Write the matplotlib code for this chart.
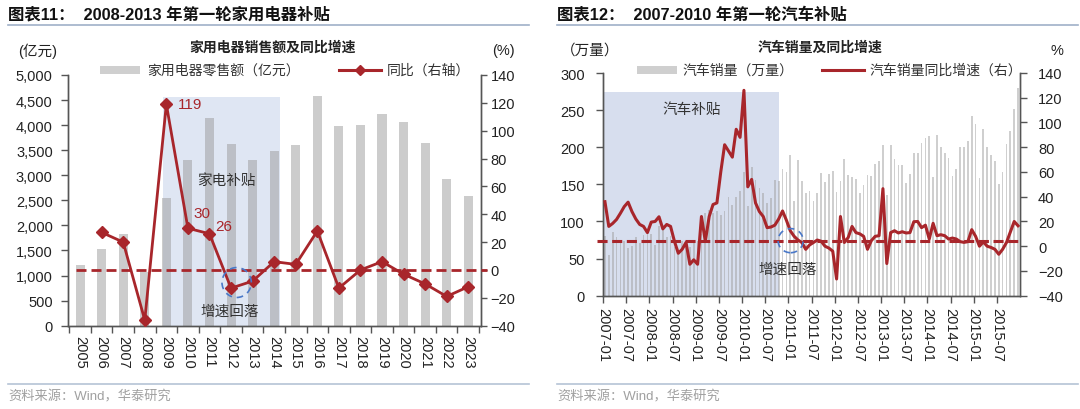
import numpy as np
import matplotlib.pyplot as plt
from matplotlib.patches import Ellipse, Rectangle
from matplotlib.lines import Line2D
from matplotlib.ticker import FuncFormatter, MultipleLocator

plt.rcParams['font.family'] = ['Liberation Sans', 'Noto Sans CJK SC']

# ---- left chart data: household appliance retail sales ----
years = ['2005', '2006', '2007', '2008', '2009', '2010', '2011', '2012', '2013', '2014',
         '2015', '2016', '2017', '2018', '2019', '2020', '2021', '2022', '2023']
sales = [1210, 1530, 1830, 1080, 2550, 3300, 4150, 3620, 3300, 3480,
         3600, 4580, 3990, 4000, 4220, 4070, 3650, 2930, 2580]
sales_yoy = [np.nan, 27, 20, -36, 119, 30, 26, -13, -8, 6,
             4, 28, -13, 0, 6, -3, -10, -19, -12]

# ---- right chart data: monthly car sales 2007-01 .. 2015-12 ----
car_ticks = ['2007-01', '2007-07', '2008-01', '2008-07', '2009-01', '2009-07',
             '2010-01', '2010-07', '2011-01', '2011-07', '2012-01', '2012-07',
             '2013-01', '2013-07', '2014-01', '2014-07', '2015-01', '2015-07']
car_sales = [
    80.8, 55.3, 85.3, 79.4, 72.6, 73.5, 63.8, 67.1, 79.2, 71.2, 81.1, 83.8,
    83.6, 67.8, 94.5, 93.5, 79.4, 80.2, 66.2, 59.2, 73.2, 72.9, 65.3, 74.3,
    73.5, 82.7, 111.2, 115.3, 111.9, 114.1, 108.6, 114.5, 133.0, 122.8, 132.7, 141.7,
    166.8, 120.8, 173.5, 155.2, 144.6, 138.1, 124.9, 131.6, 156.5, 155.0, 170.3, 166.7,
    189.4, 127.1, 183.2, 155.0, 138.0, 140.5, 127.5, 139.0, 164.8, 153.0, 164.0, 168.0,
    139.4, 155.1, 183.6, 162.3, 159.8, 156.7, 137.8, 148.8, 162.0, 161.6, 178.0, 181.6,
    203.5, 135.0, 203.3, 184.0, 175.5, 175.9, 151.5, 164.5, 192.5, 192.2, 205.1, 212.6,
    215.5, 160.0, 217.0, 200.0, 192.0, 185.0, 161.0, 171.0, 200.0, 200.0, 209.0, 241.7,
    231.0, 159.0, 224.0, 200.0, 190.0, 182.0, 151.0, 167.0, 204.0, 222.0, 251.0, 280.0]
car_yoy = [
    36, 16, 18.4, 21.6, 26.6, 32, 35.6, 28, 22, 17.6, 16, 11,
    19.5, 20, 23.8, 14, 17.6, 16, 4, -5.7, -2.5, 3, -14.6, -11,
    -14.6, 24, 4, 24, 33.7, 35, 60, 82, 77, 72, 94.5, 88,
    126, 48, 54, 35, 28, 24, 15, 15.5, 17, 22, 28.5, 21,
    12.5, 8, 5, 3, -2.5, 1, 3, 5, 4, 0, -1.5, -4,
    -26.5, 24, 3, 7, 16, 11, 10, 8, -2.5, 4.5, 8, 8.5,
    46.5, -14, 11, 12.5, 10.7, 11.7, 10.7, 11, 19.8, 20, 15, 17,
    5.8, 18.5, 8.5, 9.3, 8.5, 5.8, 6.6, 5.8, 3.7, 3.1, 3.7, 13.4,
    8, 0, 3.5, 0, -1, -2.5, -6.5, -2.5, 3, 11.5, 20, 16.5]

RED = '#a8262b'
SPINE = '#555555'
TXT = '#333333'
BLUE = '#4a78c8'

fig = plt.figure(figsize=(10.8, 4.1), dpi=100)


def style_axes(ax, ax2):
    for a in (ax, ax2):
        a.spines['top'].set_visible(False)
        for s in ('left', 'right', 'bottom'):
            a.spines[s].set_color(SPINE)
            a.spines[s].set_linewidth(1)
        a.tick_params(axis='y', direction='out', length=5, width=1, color=SPINE,
                      labelsize=10.5, labelcolor='#222222', pad=6)
    ax.tick_params(axis='x', labelsize=10.5, labelcolor='#222222')


def header(x0, x1, title, sub, sub_x, lunit, lunit_x, runit, runit_x):
    fig.text(x0 / 1080, 1 - 15 / 410, title, fontsize=11.8, fontweight='bold',
             va='center', ha='left', color='#111111')
    fig.add_artist(Line2D([x0 / 1080, x1 / 1080], [1 - 25.5 / 410] * 2,
                          color='#9fb0c8', lw=1.2))
    fig.text(sub_x / 1080, 1 - 48 / 410, sub, fontsize=10, fontweight='bold',
             ha='center', va='center', color='#222222')
    fig.text(lunit_x / 1080, 1 - 51 / 410, lunit, fontsize=10.5, ha='center',
             va='center', color='#222222')
    fig.text(runit_x / 1080, 1 - 51 / 410, runit, fontsize=10.5, ha='center',
             va='center', color='#222222')
    fig.add_artist(Line2D([x0 / 1080, x1 / 1080], [1 - 385 / 410] * 2,
                          color='#b5c3d6', lw=1.2))
    fig.text(x0 / 1080, 1 - 397 / 410, '资料来源：Wind，华泰研究', fontsize=9.5,
             ha='left', va='center', color='#a0a0a0')


def legend(patch_x, text1_x, label1, line_x, text2_x, label2, with_marker):
    y = 1 - 71 / 410
    fig.add_artist(Rectangle((patch_x[0] / 1080, y - 4 / 410),
                             (patch_x[1] - patch_x[0]) / 1080, 8 / 410,
                             transform=fig.transFigure, color='#cfcfcf', lw=0))
    fig.text(text1_x / 1080, y, label1, fontsize=10, va='center', color=TXT)
    fig.add_artist(Line2D([line_x[0] / 1080, line_x[1] / 1080], [y, y],
                          color=RED, lw=2.2))
    if with_marker:
        mid = (line_x[0] + line_x[1]) / 2 / 1080
        fig.add_artist(Line2D([mid], [y], color=RED, marker='D', ms=5, lw=0))
    fig.text(text2_x / 1080, y, label2, fontsize=10, va='center', color=TXT)


# ================= left chart =================
axL = fig.add_axes([68 / 1080, 1 - 326.7 / 410, 413 / 1080, 250.7 / 410])
axL2 = axL.twinx()
xl = np.arange(len(years))

axL.add_patch(Rectangle((3.85, 0), 9.26 - 3.85, 4560, color='#dfe6f3', lw=0, zorder=1))
axL.bar(xl, sales, width=0.42, color='#9a9a9a', alpha=0.5, zorder=2)
axL.set_xlim(-0.56, 18.59)
axL.set_ylim(0, 5000)
axL.yaxis.set_major_locator(MultipleLocator(500))
axL.yaxis.set_major_formatter(FuncFormatter(lambda v, p: f'{v:,.0f}'))
axL.set_xticks(xl)
axL.set_xticklabels(years, rotation=270)
axL.set_xticks(np.append(xl - 0.5, xl[-1] + 0.5), minor=True)
axL.tick_params(axis='x', which='major', length=0, pad=7)
axL.tick_params(axis='x', which='minor', length=5, width=1, color=SPINE, direction='out')
axL.text(6.78, 2910, '家电补贴', fontsize=10.5, ha='center', va='center', color=TXT, zorder=6)
axL.text(6.94, 300, '增速回落', fontsize=10.5, ha='center', va='center', color=TXT, zorder=6)

axL2.plot(xl, sales_yoy, color=RED, lw=2, marker='D', ms=6, zorder=5)
axL2.axhline(0, xmin=0.02, xmax=1.015, color=RED, lw=2, ls=(0, (3.6, 1.8)),
             clip_on=False, zorder=4)
axL2.set_ylim(-40, 140)
axL2.yaxis.set_major_locator(MultipleLocator(20))
for i, dx, dy in [(4, 0.55, 0), (5, 0.26, 11), (6, 0.25, 5.6)]:
    axL2.text(xl[i] + dx, sales_yoy[i] + dy, f'{sales_yoy[i]:.0f}', color=RED,
              fontsize=11, ha='left', va='center')
axL2.add_patch(Ellipse((7.26, -9), 1.36, 21.5, fill=False, ec=BLUE, lw=1.2,
                       ls=(0, (4, 3)), zorder=6))
style_axes(axL, axL2)
axL.tick_params(axis='x', labelsize=10.5)
axL2.tick_params(axis='y', length=4, pad=3)

header(8, 529, '图表11：  2008-2013 年第一轮家用电器补贴', '家用电器销售额及同比增速', 273,
       '(亿元)', 38, '(%)', 503)
legend((100, 140), 147, '家用电器零售额（亿元）', (339, 381), 387, '同比（右轴）', True)

# ================= right chart =================
axR = fig.add_axes([603 / 1080, 1 - 296.7 / 410, 417 / 1080, 222.7 / 410])
axR2 = axR.twinx()
xm = np.arange(len(car_sales)) + 0.5

axR.add_patch(Rectangle((0, 0), 45.5, 274, color='#d7deee', lw=0, zorder=1))
axR.bar(xm, car_sales, width=0.45, color='#a0a0a0', alpha=0.5, zorder=2)
axR.set_xlim(0, len(car_sales))
axR.set_ylim(0, 300)
axR.yaxis.set_major_locator(MultipleLocator(50))
axR.set_xticks(np.arange(0, len(car_sales), 6))
axR.set_xticklabels(car_ticks, rotation=270)
axR.tick_params(axis='x', length=5, width=1, color=SPINE, direction='out', pad=3)
axR.text(23, 251, '汽车补贴', fontsize=10.5, ha='center', va='center', color=TXT, zorder=6)
axR.text(47.7, 36, '增速回落', fontsize=10.5, ha='center', va='center', color=TXT, zorder=6)

axR2.plot(xm, car_yoy, color=RED, lw=2.2, zorder=5)
axR2.axhline(4, xmin=-0.015, xmax=1.0, color=RED, lw=2.2, ls=(0, (3.3, 1.5)),
             clip_on=False, zorder=4)
axR2.set_ylim(-40, 140)
axR2.yaxis.set_major_locator(MultipleLocator(20))
axR2.add_patch(Ellipse((48.6, 4.5), 6.5, 19.5, fill=False, ec=BLUE, lw=1.2,
                       ls=(0, (4, 3)), zorder=6))
style_axes(axR, axR2)
axR.tick_params(axis='y', pad=8)
axR2.tick_params(axis='y', pad=8)

header(557, 1078, '图表12：  2007-2010 年第一轮汽车补贴', '汽车销量及同比增速', 820,
       '（万量）', 590, '%', 1057)
legend((637, 677), 682, '汽车销量（万量）', (822, 864), 869, '汽车销量同比增速（右）', False)

fig.savefig('out.png', dpi=100)
